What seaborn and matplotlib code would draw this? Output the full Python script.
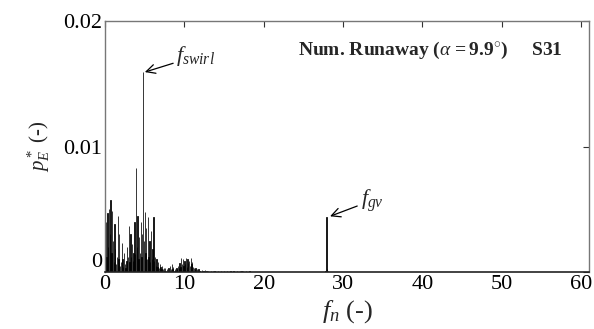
import numpy as np
import pandas as pd
import matplotlib
matplotlib.use("Agg")
import matplotlib.pyplot as plt
import seaborn as sns

# Energy spectrum, low-frequency band (f_n = 0.0 ... 12.0, step 0.1)
f_low_start, f_low_step = 0.0, 0.1
p_low = [
    0.0042, 0.0040, 0.0012, 0.0047, 0.0020, 0.0050, 0.0030, 0.0057, 0.0015, 0.0049,
    0.0025, 0.0008, 0.0038, 0.0018, 0.0006, 0.0012, 0.0045, 0.0010, 0.0030, 0.0005,
    0.0008, 0.0023, 0.0010, 0.0004, 0.0015, 0.0006, 0.0003, 0.0009, 0.0020, 0.0012,
    0.0037, 0.0008, 0.0030, 0.0012, 0.0022, 0.0009, 0.0015, 0.0040, 0.0014, 0.0083,
    0.0020, 0.0045, 0.0010, 0.0028, 0.0015, 0.0040, 0.0012, 0.0030, 0.0159, 0.0025,
    0.0048, 0.0015, 0.0035, 0.0010, 0.0044, 0.0012, 0.0025, 0.0008, 0.0033, 0.0010,
    0.0018, 0.0044, 0.0009, 0.0012, 0.0005, 0.0010, 0.0004, 0.0008, 0.0003, 0.0006,
    0.0004, 0.0002, 0.0005, 0.0002, 0.0003, 0.0001, 0.0003, 0.0001, 0.0002, 0.0001,
    0.0003, 0.0001, 0.0005, 0.0002, 0.0006, 0.0002, 0.0004, 0.0001, 0.0002, 0.0001,
    0.0003, 0.0002, 0.0005, 0.0003, 0.0007, 0.0004, 0.0011, 0.0006, 0.0010, 0.0005,
    0.0009, 0.0006, 0.0011, 0.0004, 0.0010, 0.0007, 0.0009, 0.0005, 0.0011, 0.0006,
    0.0008, 0.0004, 0.0003, 0.0002, 0.0003, 0.0001, 0.0002, 0.0001, 0.0002, 0.0001,
    0.0001,
]

# Weak tail (f_n = 12.2 ... 19.0, step 0.2)
f_tail_start, f_tail_step = 12.2, 0.2
p_tail = [
    0.00015, 0.00005, 0.00012, 0.00004, 0.00010, 0.00003, 0.00008, 0.00004, 0.00010, 0.00003,
    0.00006, 0.00002, 0.00008, 0.00003, 0.00006, 0.00002, 0.00005, 0.00002, 0.00006, 0.00003,
    0.00007, 0.00002, 0.00005, 0.00003, 0.00008, 0.00004, 0.00006, 0.00002, 0.00005, 0.00002,
    0.00004, 0.00002, 0.00003, 0.00001, 0.00002,
]

# Guide-vane passing peak
f_gv = [27.7, 27.8, 27.9, 28.0, 28.1]
p_gv = [0.00005, 0.0001, 0.0044, 0.0002, 0.00005]

x_ticks = [0, 10, 20, 30, 40, 50, 60]
y_ticks = [0, 0.01, 0.02]
y_tick_labels = ["0", "0.01", "0.02"]

f_low = np.round(f_low_start + f_low_step * np.arange(len(p_low)), 3)
f_tail = np.round(f_tail_start + f_tail_step * np.arange(len(p_tail)), 3)

spec = pd.DataFrame({
    "f": np.concatenate([f_low, f_tail, f_gv]),
    "p": np.concatenate([p_low, p_tail, p_gv]),
})

sns.set_theme(style="white")
plt.rcParams["font.family"] = ["Liberation Serif", "DejaVu Serif"]
plt.rcParams["mathtext.fontset"] = "custom"
plt.rcParams["mathtext.rm"] = "Liberation Serif"
plt.rcParams["mathtext.it"] = "Liberation Serif:italic"
plt.rcParams["mathtext.bf"] = "Liberation Serif:bold"

fig = plt.figure(figsize=(5.94, 3.29), dpi=100)
ax = fig.add_axes([0.1768, 0.1733, 0.8148, 0.7627])

# Spectral lines: each frequency bin is a thin stroked bar of height p
sns.histplot(data=spec, x="f", weights="p", binwidth=0.1, binrange=(-0.05, 28.25),
             stat="count", element="bars", fill=True, color="black", alpha=1.0,
             shrink=0.4, linewidth=0.55, edgecolor="black", ax=ax)

ax.set_xlim(0, 61)
ax.set_ylim(0, 0.02)
ax.set_xticks(x_ticks)
ax.set_xticklabels([str(t) for t in x_ticks])
ax.set_yticks(y_ticks)
ax.set_yticklabels(y_tick_labels)
ax.tick_params(direction="in", top=True, right=True, length=4, width=0.8,
               labelsize=16, colors="#333333", labelcolor="black", pad=2)
ax.get_yticklabels()[0].set_verticalalignment("bottom")

for side in ["left", "top", "right"]:
    ax.spines[side].set_color("#777777")
    ax.spines[side].set_linewidth(1.0)
ax.spines["bottom"].set_color("#222222")
ax.spines["bottom"].set_linewidth(1.2)

ax.set_xlabel(r"$f_n$ (-)", fontsize=19, labelpad=3)
ax.set_ylabel(r"$p_E^*$ (-)", fontsize=15, labelpad=8)

ax.text(0.945, 0.884, r"Num. Runaway ($\alpha\mathbf{\,=9.9}^{\circ}$)     S31",
        transform=ax.transAxes, ha="right", va="center",
        fontsize=14, fontweight="bold")

ax.annotate(r"$f_{swirl}$", xy=(4.85, 0.0159), xytext=(9.0, 0.0172),
            fontsize=16, ha="left", va="center",
            arrowprops=dict(arrowstyle="->", color="black", lw=0.9,
                            shrinkA=0, shrinkB=1))
ax.annotate(r"$f_{gv}$", xy=(28.2, 0.0044), xytext=(32.2, 0.0057),
            fontsize=16, ha="left", va="center",
            arrowprops=dict(arrowstyle="->", color="black", lw=0.9,
                            shrinkA=0, shrinkB=1))

fig.savefig("out.png", dpi=100)
